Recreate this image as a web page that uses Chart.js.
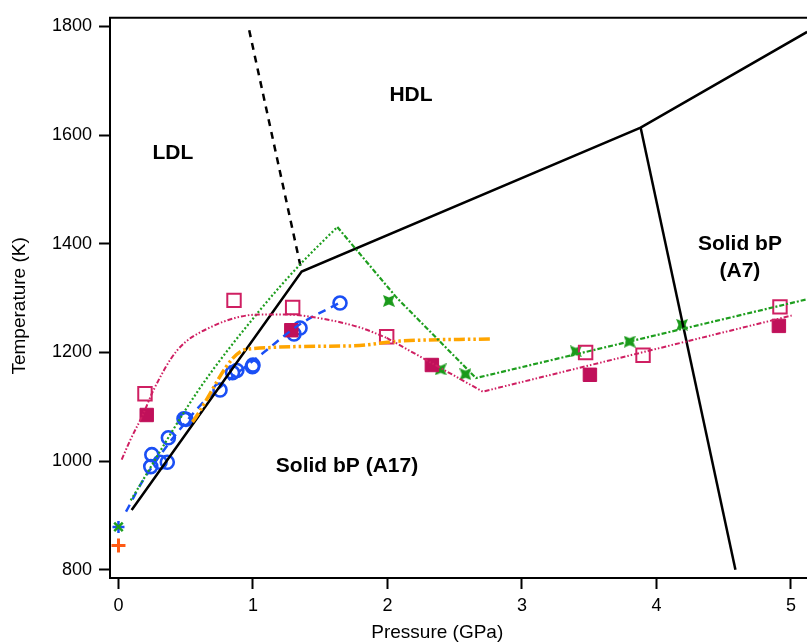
<!DOCTYPE html>
<html>
<head>
<meta charset="utf-8">
<script src="https://cdn.jsdelivr.net/npm/chart.js@4/dist/chart.umd.min.js"></script>
<style>
  body { margin: 0; background: #fff; }
  #wrap { width: 807px; height: 644px; }
</style>
</head>
<body>
<div id="wrap"><canvas id="canvas" width="807" height="644"></canvas></div>
<script>
// tick labels
const xTicks = [0, 1, 2, 3, 4, 5];
const yTicks = [800, 1000, 1200, 1400, 1600, 1800];

// phase boundaries (GPa, K)
const meltP = [0.098, 1.362, 3.882, 5.12];
const meltT = [910, 1349, 1614, 1790];
const a7P = [3.882, 4.587];
const a7T = [1614, 800];
const ldlhdlP = [0.972, 1.362];
const ldlhdlT = [1793, 1349];

// blue circles + dashed fit
const blueP = [0.24, 0.248, 0.309, 0.363, 0.371, 0.487, 0.502, 0.755, 0.848, 0.88, 0.996, 1.0, 1.305, 1.35, 1.647];
const blueT = [990, 1012, 998, 998, 1043, 1078, 1077, 1131, 1163, 1167, 1174, 1177, 1234, 1245, 1291];
const blueFitP = [0.056, 0.184, 0.606, 0.755, 1.074, 1.349, 1.64];
const blueFitT = [907, 965, 1102, 1136, 1199, 1252, 1291];

// orange curve
const orangeP = [0.55, 0.953, 1.72, 2.09, 2.78];
const orangeT = [1072, 1206, 1212, 1221, 1225];

// green model
const greenRiseP = [0.091, 0.593, 1.052, 1.35, 1.627];
const greenRiseT = [928, 1130, 1278, 1362, 1431];
const greenRestP = [1.627, 2.068, 2.658, 5.12];
const greenRestT = [1431, 1301, 1153, 1298];
const greenStarP = [2.01, 2.395, 2.58, 3.40, 3.80, 4.19];
const greenStarT = [1295, 1169, 1160, 1202, 1220, 1251];

// pink model + squares
const pinkRiseP = [0.024, 0.086, 0.184, 0.259, 0.433, 0.68, 1.052, 1.225, 1.474, 1.796, 1.994];
const pinkRiseT = [1003, 1038, 1087, 1130, 1203, 1246, 1270, 1270, 1264, 1246, 1227];
const pinkRestP = [1.994, 2.708, 5.005];
const pinkRestT = [1227, 1128, 1268];
const openSqP = [0.197, 0.859, 1.295, 1.994, 3.473, 3.90, 4.918];
const openSqT = [1124, 1296, 1283, 1229, 1200, 1195, 1284];
const fullSqP = [0.21, 1.285, 2.33, 3.505, 4.91];
const fullSqT = [1085, 1241, 1177, 1159, 1249];

// ambient-pressure points
const plusP = [0];
const plusT = [845];
const asteriskP = [0];
const asteriskT = [879];

const zip = (p, t) => p.map((v, i) => ({ x: v, y: t[i] }));

const FONT = "'Liberation Sans', Arial, sans-serif";
const GREEN = '#1e9e1e';
const PINK = '#cf1f62';
const BLUE = '#1a4ff5';
const ORANGE = '#ffa500';

// concave 4-point star marker
function starMarker(color, size) {
  const c = document.createElement('canvas');
  c.width = size; c.height = size;
  const g = c.getContext('2d');
  const h = size / 2, k = size * 0.3;
  g.fillStyle = color;
  g.beginPath();
  g.moveTo(0, 0); g.lineTo(h, h - k); g.lineTo(size, 0); g.lineTo(h + k, h);
  g.lineTo(size, size); g.lineTo(h, h + k); g.lineTo(0, size); g.lineTo(h - k, h);
  g.closePath();
  g.fill();
  return c;
}

const lineSet = (data, color, width, dash, extra) => Object.assign({
  data, borderColor: color, borderWidth: width, borderDash: dash,
  pointRadius: 0, showLine: true, fill: false, tension: 0
}, extra || {});

const markSet = (data, style, color, fillColor, radius, width) => ({
  data, showLine: false, pointStyle: style, pointRadius: radius,
  borderColor: color, backgroundColor: fillColor, pointBorderWidth: width, borderWidth: width
});

const labels = [
  { text: 'LDL', p: 0.405, t: 1566 },
  { text: 'HDL', p: 2.175, t: 1674 },
  { text: 'Solid bP (A17)', p: 1.699, t: 990 },
  { text: 'Solid bP', p: 4.62, t: 1399 },
  { text: '(A7)', p: 4.62, t: 1350 }
];

const decor = {
  id: 'decor',
  afterDraw(chart) {
    const { ctx, chartArea, scales } = chart;
    ctx.save();
    // top frame line
    ctx.strokeStyle = '#000';
    ctx.lineWidth = 2;
    ctx.beginPath();
    ctx.moveTo(chartArea.left - 1, chartArea.top);
    ctx.lineTo(chartArea.right, chartArea.top);
    ctx.stroke();
    // region names
    ctx.fillStyle = '#000';
    ctx.font = 'bold 21px ' + FONT;
    ctx.textAlign = 'center';
    ctx.textBaseline = 'middle';
    labels.forEach(l => ctx.fillText(l.text, scales.x.getPixelForValue(l.p), scales.y.getPixelForValue(l.t)));
    // axis titles
    ctx.font = '19px ' + FONT;
    ctx.fillText('Pressure (GPa)', scales.x.getPixelForValue(2.37), 633);
    ctx.translate(20, (chartArea.top + chartArea.bottom) / 2 + 8);
    ctx.rotate(-Math.PI / 2);
    ctx.fillText('Temperature (K)', 0, 0);
    ctx.restore();
  }
};

new Chart(document.getElementById('canvas').getContext('2d'), {
  type: 'scatter',
  data: {
    datasets: [
      lineSet(zip(pinkRiseP, pinkRiseT), PINK, 2, [5, 2, 1.5, 2, 1.5, 2], { cubicInterpolationMode: 'monotone' }),
      lineSet(zip(pinkRestP, pinkRestT), PINK, 2, [5, 2, 1.5, 2, 1.5, 2]),
      lineSet(zip(greenRiseP, greenRiseT), GREEN, 2.2, [2, 2.2], { cubicInterpolationMode: 'monotone' }),
      lineSet(zip(greenRestP, greenRestT), GREEN, 2.2, [5, 2, 2, 2]),
      lineSet(zip(orangeP, orangeT), ORANGE, 3.5, [11, 3, 2.5, 3, 2.5, 3], { cubicInterpolationMode: 'monotone' }),
      lineSet(zip(meltP, meltT), '#000', 2.5, []),
      lineSet(zip(a7P, a7T), '#000', 2.5, []),
      lineSet(zip(ldlhdlP, ldlhdlT), '#000', 2.5, [7, 6]),
      lineSet(zip(blueFitP, blueFitT), BLUE, 2.5, [8, 6], { cubicInterpolationMode: 'monotone' }),
      markSet(zip(openSqP, openSqT), 'rect', PINK, 'rgba(255,255,255,0)', 9.5, 2),
      markSet(zip(fullSqP, fullSqT), 'rect', '#c0105a', '#c0105a', 9.5, 1),
      markSet(zip(greenStarP, greenStarT), starMarker('#1a9a1a', 12), GREEN, GREEN, 6, 1),
      markSet(zip(blueP, blueT), 'circle', BLUE, 'rgba(255,255,255,0)', 6.5, 2.6),
      markSet(zip(plusP, plusT), 'cross', '#ff5a14', '#ff5a14', 7, 3),
      markSet(zip(asteriskP, asteriskT), 'crossRot', GREEN, GREEN, 6, 2.5),
      markSet(zip(asteriskP, asteriskT), 'cross', BLUE, BLUE, 6, 2.5)
    ]
  },
  options: {
    responsive: false,
    animation: false,
    layout: { autoPadding: false, padding: { top: 15, right: 0, left: 0, bottom: 0 } },
    plugins: { legend: { display: false }, tooltip: { enabled: false } },
    scales: {
      x: {
        type: 'linear', min: -0.063, max: 5.119,
        afterFit(s) { s.height = 66; },
        afterBuildTicks(s) { s.ticks = xTicks.map(v => ({ value: v })); },
        grid: { drawOnChartArea: false, drawTicks: true, tickLength: 11, tickWidth: 2, tickColor: '#000' },
        border: { display: true, color: '#000', width: 2 },
        ticks: { color: '#000', font: { family: FONT, size: 18 }, padding: 6, maxRotation: 0, callback: v => String(v) }
      },
      y: {
        type: 'linear', min: 785, max: 1816,
        afterFit(s) { s.width = 110; },
        afterBuildTicks(s) { s.ticks = yTicks.map(v => ({ value: v })); },
        grid: { drawOnChartArea: false, drawTicks: true, tickLength: 11, tickWidth: 2, tickColor: '#000' },
        border: { display: true, color: '#000', width: 2 },
        ticks: { color: '#000', font: { family: FONT, size: 18 }, padding: 7, callback: v => String(v) }
      }
    }
  },
  plugins: [decor]
});
</script>
</body>
</html>
